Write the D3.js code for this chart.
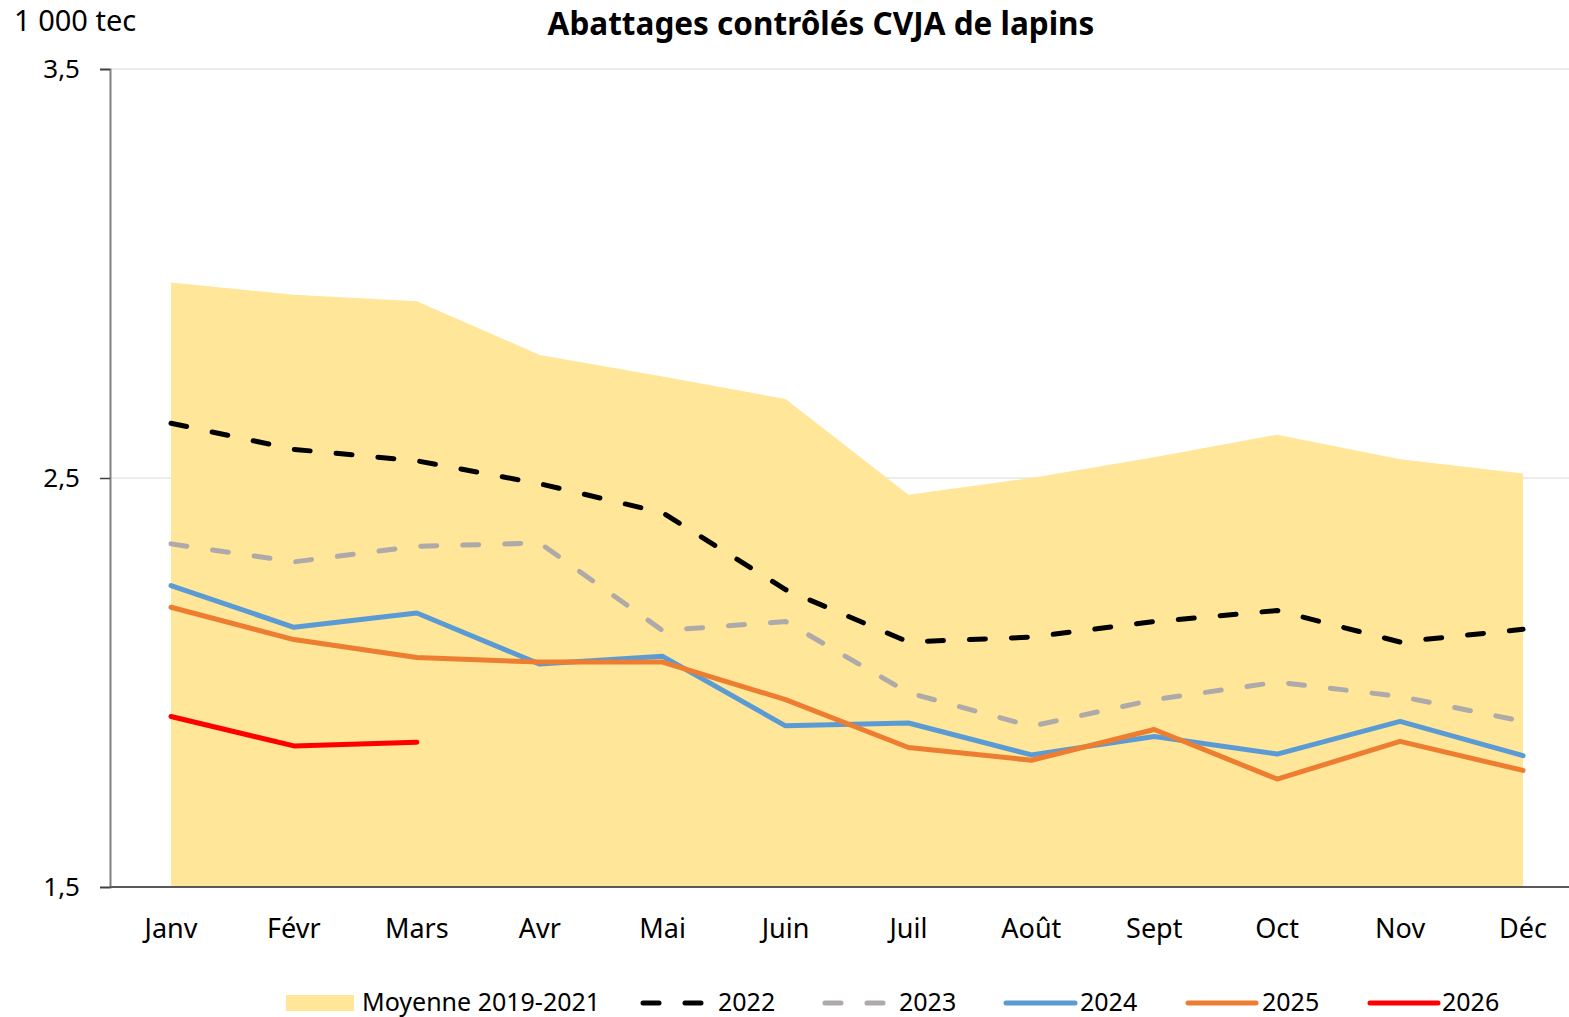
<!DOCTYPE html>
<html>
<head>
<meta charset="utf-8">
<script src="https://cdn.jsdelivr.net/npm/d3@7"></script>
<style>
  body { margin: 0; background: #fff; }
  text { font-family: 'Noto Sans', sans-serif; fill: #000; }
</style>
</head>
<body>
<div id="chart"></div>
<script>
var months = ['Janv', 'Févr', 'Mars', 'Avr', 'Mai', 'Juin', 'Juil', 'Août', 'Sept', 'Oct', 'Nov', 'Déc'];
var yTicks = [1.5, 2.5, 3.5];

var moyenne = [2.978, 2.948, 2.932, 2.801, 2.748, 2.693, 2.459, 2.500, 2.551, 2.606, 2.546, 2.511];
var y2022 = [2.634, 2.570, 2.542, 2.486, 2.415, 2.227, 2.099, 2.111, 2.149, 2.176, 2.099, 2.130];
var y2023 = [2.339, 2.295, 2.333, 2.341, 2.127, 2.149, 1.975, 1.893, 1.958, 2.001, 1.966, 1.905];
var y2024 = [2.237, 2.135, 2.170, 2.045, 2.064, 1.894, 1.901, 1.823, 1.868, 1.825, 1.905, 1.821];
var y2025 = [2.184, 2.105, 2.061, 2.050, 2.050, 1.958, 1.841, 1.810, 1.885, 1.764, 1.856, 1.785];
var y2026 = [1.917, 1.845, 1.854];

var series = [
    {name: '2022', values: y2022, color: '#000000', dash: '16,26'},
    {name: '2023', values: y2023, color: '#AEAAAA', dash: '16,26'},
    {name: '2024', values: y2024, color: '#5B9BD5', dash: null},
    {name: '2025', values: y2025, color: '#ED7D31', dash: null},
    {name: '2026', values: y2026, color: '#FF0000', dash: null}
];

var width = 1569, height = 1017;
var margin = {left: 110, top: 69, bottom: 887};

var svg = d3.select('#chart').append('svg')
    .attr('width', width)
    .attr('height', height);

var x = d3.scalePoint()
    .domain(months)
    .range([171, 1523]);

var y = d3.scaleLinear()
    .domain([1.5, 3.5])
    .range([margin.bottom, margin.top]);

var fr = d3.formatLocale({decimal: ',', thousands: ' ', grouping: [3], currency: ['', '€']});
var fmt = fr.format('.1f');

// gridlines
svg.append('g')
    .selectAll('line')
    .data(yTicks.slice(1))
    .enter()
    .append('line')
    .attr('x1', margin.left)
    .attr('x2', width)
    .attr('y1', function(d) { return y(d); })
    .attr('y2', function(d) { return y(d); })
    .attr('stroke', '#d9d9d9')
    .attr('stroke-width', 1);

// area for the 2019-2021 average
var area = d3.area()
    .x(function(d, i) { return x(months[i]); })
    .y0(y(1.5))
    .y1(function(d) { return y(d); });

svg.append('path')
    .datum(moyenne)
    .attr('d', area)
    .attr('fill', '#FFE699');

var line = d3.line()
    .x(function(d, i) { return x(months[i]); })
    .y(function(d) { return y(d); });

series.forEach(function(s) {
    svg.append('path')
        .datum(s.values)
        .attr('d', line)
        .attr('fill', 'none')
        .attr('stroke', s.color)
        .attr('stroke-width', 5)
        .attr('stroke-linecap', 'round')
        .attr('stroke-linejoin', 'round')
        .attr('stroke-dasharray', s.dash);
});

// y axis
var yAxis = svg.append('g')
    .attr('transform', 'translate(' + margin.left + ',0)')
    .call(d3.axisLeft(y).tickValues(yTicks).tickFormat(fmt).tickSize(10).tickPadding(20));
yAxis.select('.domain').attr('stroke', '#808080').attr('stroke-width', 2);
yAxis.selectAll('.tick line').attr('stroke', '#404040').attr('stroke-width', 1.5);
yAxis.selectAll('.tick text')
    .attr('font-size', 26)
    .attr('font-family', 'Noto Sans')
    .attr('fill', '#000');

// x axis line
svg.append('line')
    .attr('x1', margin.left)
    .attr('x2', width)
    .attr('y1', margin.bottom)
    .attr('y2', margin.bottom)
    .attr('stroke', '#595959')
    .attr('stroke-width', 2);

svg.append('g')
    .selectAll('text')
    .data(months)
    .enter()
    .append('text')
    .attr('x', function(d) { return x(d); })
    .attr('y', 938)
    .attr('text-anchor', 'middle')
    .attr('font-size', 27)
    .text(function(d) { return d; });

// titles
svg.append('text')
    .attr('x', 821)
    .attr('y', 35)
    .attr('text-anchor', 'middle')
    .attr('font-size', 31.5)
    .attr('font-weight', 'bold')
    .text('Abattages contrôlés CVJA de lapins');

svg.append('text')
    .attr('x', 14)
    .attr('y', 31)
    .attr('font-size', 29)
    .text('1 000 tec');

// legend
var legY = 1003;
var legend = svg.append('g');

legend.append('rect')
    .attr('x', 286)
    .attr('y', 995)
    .attr('width', 68)
    .attr('height', 16)
    .attr('fill', '#FFE699');
legend.append('text')
    .attr('x', 362)
    .attr('y', legY + 8)
    .attr('font-size', 25)
    .text('Moyenne 2019-2021');

var legPos = [
    {x1: 643, x2: 705, tx: 718},
    {x1: 825, x2: 884, tx: 899},
    {x1: 1006, x2: 1075, tx: 1080},
    {x1: 1188, x2: 1256, tx: 1262},
    {x1: 1370, x2: 1438, tx: 1442}
];

series.forEach(function(s, i) {
    var p = legPos[i];
    legend.append('line')
        .attr('x1', p.x1)
        .attr('x2', p.x2)
        .attr('y1', legY)
        .attr('y2', legY)
        .attr('stroke', s.color)
        .attr('stroke-width', 5)
        .attr('stroke-linecap', 'round')
        .attr('stroke-dasharray', s.dash ? '16,26' : null);
    legend.append('text')
        .attr('x', p.tx)
        .attr('y', legY + 8)
        .attr('font-size', 25)
        .text(s.name);
});
</script>
</body>
</html>
